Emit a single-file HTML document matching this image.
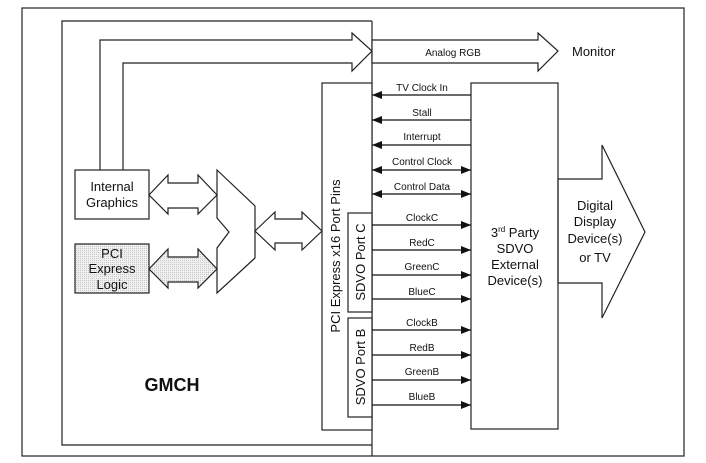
<!DOCTYPE html>
<html><head><style>body{margin:0;background:#fff}svg{display:block}text{font-family:"Liberation Sans",Arial,sans-serif;fill:#111}</style></head><body>
<svg width="706" height="463" viewBox="0 0 706 463">
<defs>
<pattern id="dot" width="2" height="2" patternUnits="userSpaceOnUse"><rect width="2" height="2" fill="#f0f0f0"/><rect width="1" height="1" fill="#c8c8c8"/></pattern>
<marker id="ah" markerWidth="10" markerHeight="8" refX="10" refY="4" orient="auto" markerUnits="userSpaceOnUse"><path d="M0,0 L10,4 L0,8 z" fill="#111"/></marker>
<marker id="as" markerWidth="10" markerHeight="8" refX="0" refY="4" orient="auto" markerUnits="userSpaceOnUse"><path d="M10,0 L0,4 L10,8 z" fill="#111"/></marker>
</defs>
<g fill="none" stroke="#222" stroke-width="1.2">
<rect x="22" y="8" width="662" height="448"/>
<polyline points="372,21 62,21 62,445 372,445"/>
<line x1="372" y1="21" x2="372" y2="456"/>
<rect x="322" y="83" width="50" height="347" fill="#fff"/>
<rect x="348" y="213" width="24" height="99" fill="#fff"/>
<rect x="348" y="318" width="24" height="99" fill="#fff"/>
<rect x="471" y="83" width="87" height="346" fill="#fff"/>
<rect x="75" y="170" width="74" height="49" fill="#fff"/>
<rect x="75" y="244" width="74" height="49" fill="url(#dot)"/>
<polyline points="100,170 100,40 352,40 352,33 372,51 352,71 352,63 123,63 123,170"/>
<polygon points="372,40 538,40 538,33 558,51 538,71 538,63 372,63" fill="#fff"/>
<polygon points="217,170 255,206 255,258 217,293 217,248 229,232 217,218"/>
<polygon points="149,195 168,175 168,183 198,183 198,175 217,195 198,214 198,208 168,208 168,214"/>
<polygon points="149,269 168,249 168,257 198,257 198,249 217,269 198,288 198,282 168,282 168,288" fill="url(#dot)"/>
<polygon points="255,231 275,212 275,219 302,219 302,212 322,231 302,250 302,243 275,243 275,250"/>
<polygon points="558,179 602,179 602,145 645,232 602,318 602,283 558,283"/>
</g>
<g stroke="#111" stroke-width="1.2">
<line x1="471" y1="95" x2="372" y2="95" marker-end="url(#ah)"/>
<line x1="471" y1="120" x2="372" y2="120" marker-end="url(#ah)"/>
<line x1="471" y1="145" x2="372" y2="145" marker-end="url(#ah)"/>
<line x1="372" y1="170" x2="471" y2="170" marker-end="url(#ah)" marker-start="url(#as)"/>
<line x1="372" y1="194" x2="471" y2="194" marker-end="url(#ah)" marker-start="url(#as)"/>
<line x1="372" y1="225" x2="471" y2="225" marker-end="url(#ah)"/>
<line x1="372" y1="250" x2="471" y2="250" marker-end="url(#ah)"/>
<line x1="372" y1="275" x2="471" y2="275" marker-end="url(#ah)"/>
<line x1="372" y1="299" x2="471" y2="299" marker-end="url(#ah)"/>
<line x1="372" y1="330" x2="471" y2="330" marker-end="url(#ah)"/>
<line x1="372" y1="355" x2="471" y2="355" marker-end="url(#ah)"/>
<line x1="372" y1="380" x2="471" y2="380" marker-end="url(#ah)"/>
<line x1="372" y1="405" x2="471" y2="405" marker-end="url(#ah)"/>
</g>
<g font-size="10" text-anchor="middle">
<text x="422" y="91">TV Clock In</text>
<text x="422" y="116">Stall</text>
<text x="422" y="140">Interrupt</text>
<text x="422" y="165">Control Clock</text>
<text x="422" y="190">Control Data</text>
<text x="422" y="221">ClockC</text>
<text x="422" y="246">RedC</text>
<text x="422" y="270">GreenC</text>
<text x="422" y="295">BlueC</text>
<text x="422" y="326">ClockB</text>
<text x="422" y="351">RedB</text>
<text x="422" y="375">GreenB</text>
<text x="422" y="400">BlueB</text>
<text x="453" y="56">Analog RGB</text>
</g>
<text x="572" y="56" font-size="13">Monitor</text>
<g font-size="13" text-anchor="middle">
<text x="112" y="191">Internal</text>
<text x="112" y="207">Graphics</text>
<text x="112" y="258">PCI</text>
<text x="112" y="273">Express</text>
<text x="112" y="289">Logic</text>
<text x="515" y="237">3<tspan font-size="8" dy="-5">rd</tspan><tspan dy="5"> Party</tspan></text>
<text x="515" y="253">SDVO</text>
<text x="515" y="269">External</text>
<text x="515" y="285">Device(s)</text>
<text x="595" y="210">Digital</text>
<text x="595" y="226">Display</text>
<text x="595" y="243">Device(s)</text>
<text x="595" y="262">or TV</text>
<text x="0" y="0" transform="translate(340,256) rotate(-90)">PCI Express x16 Port Pins</text>
<text x="0" y="0" transform="translate(365,262) rotate(-90)">SDVO Port C</text>
<text x="0" y="0" transform="translate(365,367) rotate(-90)">SDVO Port B</text>
</g>
<text x="172" y="391" font-size="18" font-weight="bold" text-anchor="middle">GMCH</text>
</svg>
</body></html>
